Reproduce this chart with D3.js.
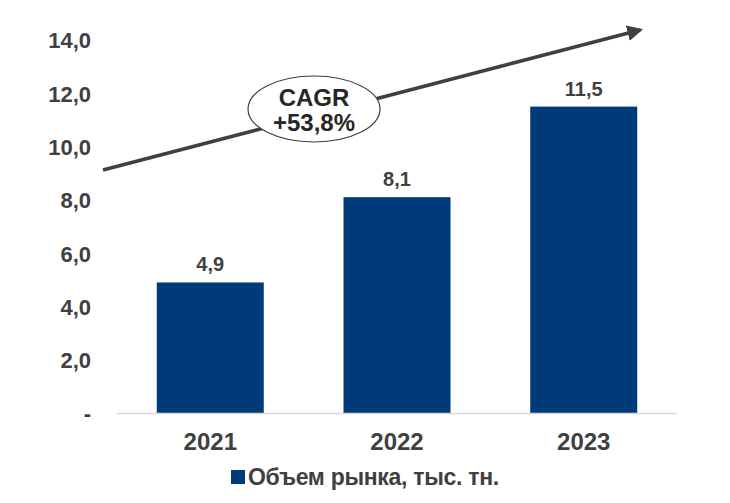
<!DOCTYPE html>
<html><head><meta charset="utf-8">
<script src="https://cdn.jsdelivr.net/npm/d3@7"></script>
<style>body{margin:0;background:#fff}</style>
</head><body>
<svg id="c" width="730" height="503"></svg>
<script>
const categories = ["2021","2022","2023"];
const values = [4.9, 8.1, 11.5];
const valueLabels = ["4,9","8,1","11,5"];
const yTicks = [0,2,4,6,8,10,12,14];
const yTickLabels = ["-","2,0","4,0","6,0","8,0","10,0","12,0","14,0"];
const seriesName = "Объем рынка, тыс. тн.";
const cagrLines = ["CAGR","+53,8%"];

const svg = d3.select("#c");
const font = "'Liberation Sans', Arial, sans-serif";
const x = d3.scaleBand().domain(categories).range([117, 677]).paddingInner(0.427).paddingOuter(0.213);
const y = d3.scaleLinear().domain([0,14]).range([413, 40]);

// y axis labels
const yAxis = d3.axisLeft(y).tickValues(yTicks).tickFormat((d,i)=>yTickLabels[i]).tickSize(0).tickPadding(0);
const gy = svg.append("g").attr("transform","translate(91,0)").call(yAxis);
gy.select(".domain").remove();
gy.selectAll("text").attr("font-family",font).attr("font-weight","bold").attr("font-size",22).attr("fill","#404040").attr("dy","0.36em");

// bars
svg.selectAll("rect.bar").data(values).join("rect").attr("class","bar")
  .attr("x",(d,i)=>x(categories[i])).attr("width",x.bandwidth())
  .attr("y",d=>y(d)).attr("height",d=>y(0)-y(d)).attr("fill","#003A78");

// baseline
svg.append("line").attr("x1",117).attr("x2",677).attr("y1",y(0)+0.5).attr("y2",y(0)+0.5).attr("stroke","#d9d9d9").attr("stroke-width",1.5);

// x axis labels
const xAxis = d3.axisBottom(x).tickSize(0).tickPadding(0);
const gx = svg.append("g").attr("transform",`translate(0,${y(0)+28})`).call(xAxis);
gx.select(".domain").remove();
gx.selectAll("text").attr("font-family",font).attr("font-weight","bold").attr("font-size",24).attr("fill","#404040").attr("dy","0.36em");

// value labels
svg.selectAll("text.vl").data(values).join("text").attr("class","vl")
  .attr("x",(d,i)=>x(categories[i])+x.bandwidth()/2).attr("y",d=>y(d)-11)
  .attr("text-anchor","middle").attr("font-family",font).attr("font-weight","bold").attr("font-size",20).attr("fill","#404040")
  .text((d,i)=>valueLabels[i]);

// arrow
const defs = svg.append("defs");
defs.append("marker").attr("id","ah").attr("viewBox","0 0 10 10").attr("refX",8).attr("refY",5)
  .attr("markerWidth",4.5).attr("markerHeight",4.5).attr("orient","auto")
  .append("path").attr("d","M0,0 L10,5 L0,10 Z").attr("fill","#404040");
svg.append("line").attr("x1",103).attr("y1",170).attr("x2",640).attr("y2",30)
  .attr("stroke","#404040").attr("stroke-width",3.5).attr("marker-end","url(#ah)");

// ellipse
svg.append("ellipse").attr("cx",314).attr("cy",109).attr("rx",66).attr("ry",33)
  .attr("fill","#fff").attr("stroke","#404040").attr("stroke-width",1.2);
svg.selectAll("text.cagr").data(cagrLines).join("text").attr("class","cagr")
  .attr("x",314).attr("y",(d,i)=>97+i*25).attr("dy","0.36em").attr("text-anchor","middle")
  .attr("font-family",font).attr("font-weight","bold").attr("font-size",24).attr("fill","#262626").text(d=>d);

// legend
const lg = svg.append("g").attr("transform","translate(231,470)");
lg.append("rect").attr("x",0).attr("y",0).attr("width",14).attr("height",14).attr("fill","#003A78");
lg.append("text").attr("x",17).attr("y",7).attr("dy","0.36em").attr("font-family",font).attr("font-weight","bold")
  .attr("font-size",23).attr("letter-spacing","-0.3").attr("fill","#404040").text(seriesName);
</script>
</body></html>
